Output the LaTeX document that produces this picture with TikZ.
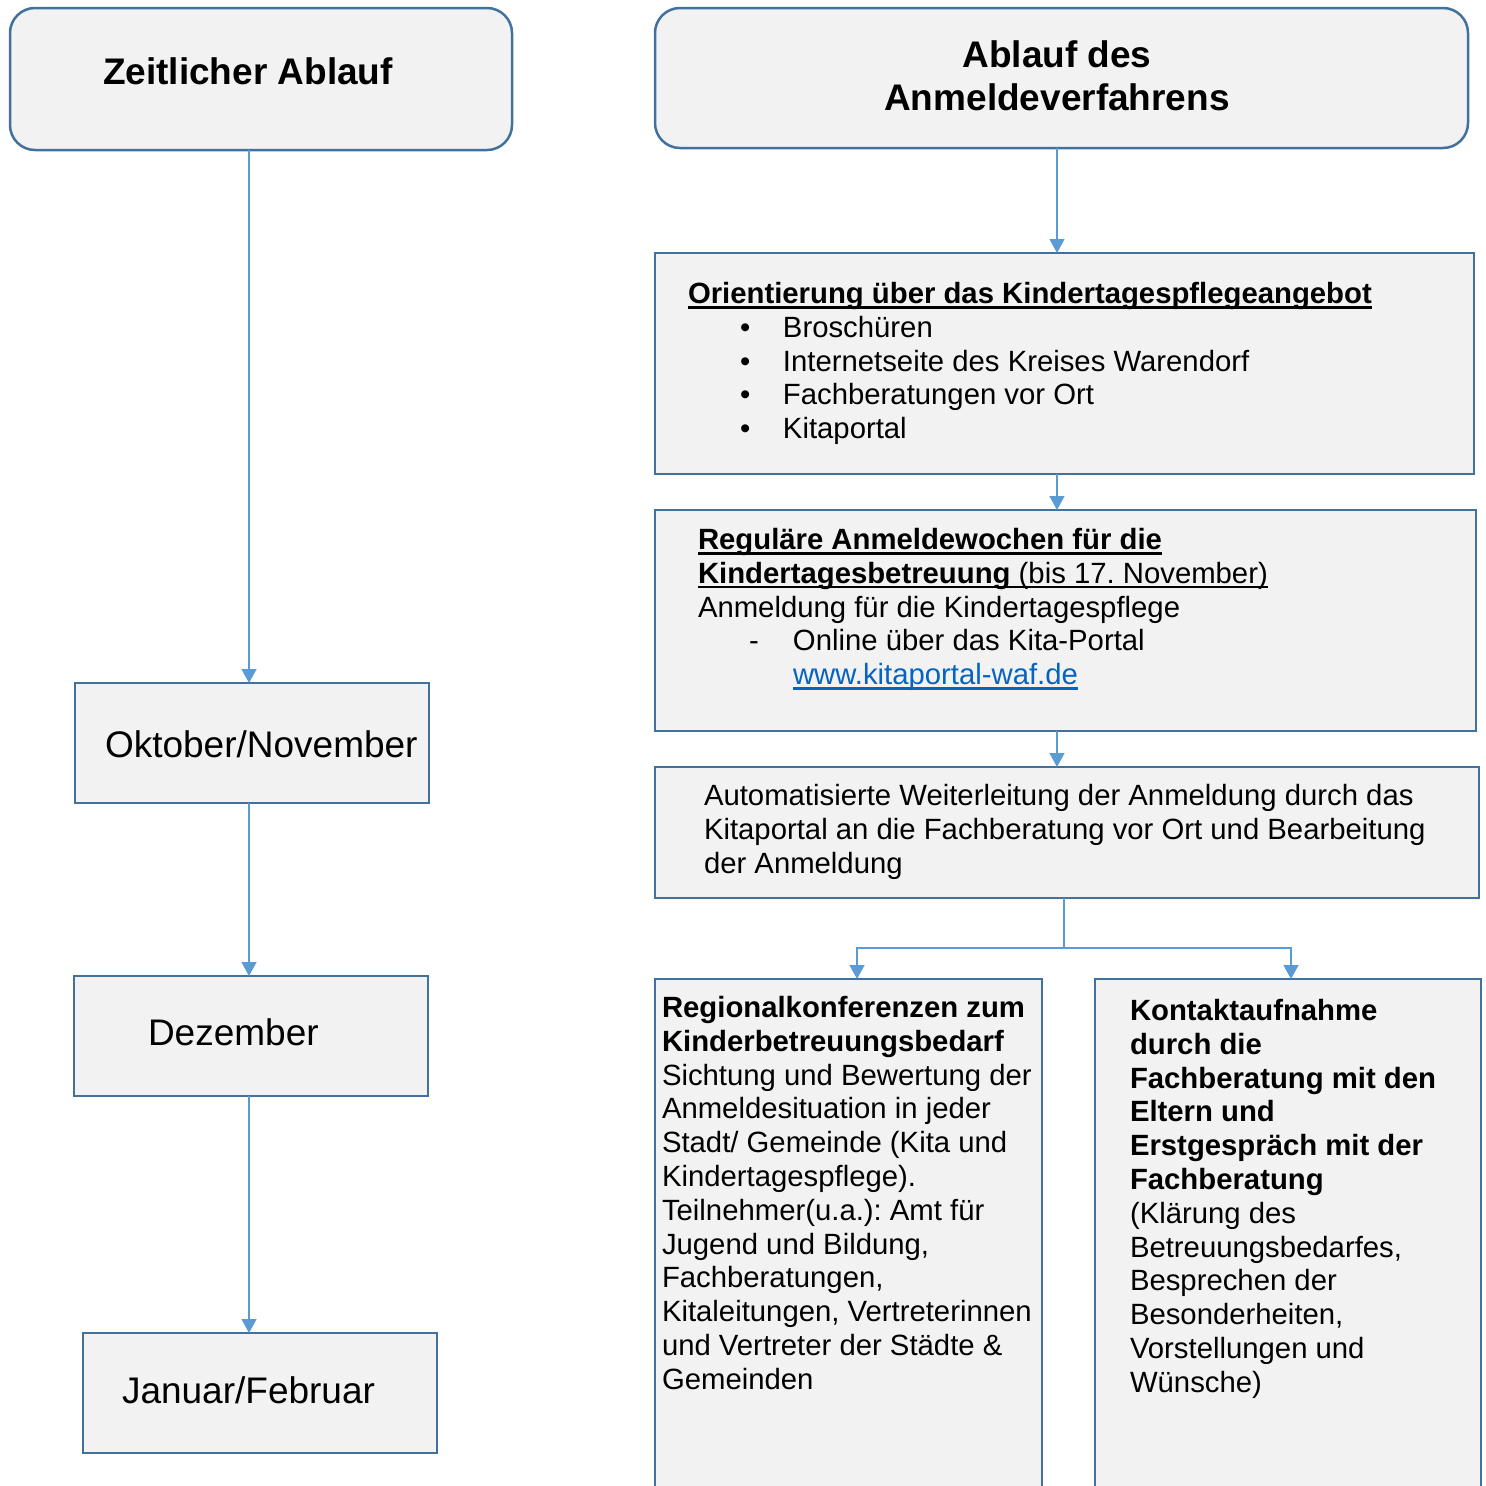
\documentclass[tikz,border=0pt]{standalone}
\usepackage{fontspec}
\setmainfont{Liberation Sans}
\usetikzlibrary{arrows.meta,calc}
\frenchspacing
\definecolor{boxfill}{HTML}{F2F2F2}
\definecolor{boxline}{HTML}{41719C}
\definecolor{connline}{HTML}{5B9BD5}
\definecolor{linkblue}{HTML}{0563C1}
\newcommand\myul[1]{\setbox0\hbox{#1}\rlap{\rule[-5pt]{\wd0}{2.6pt}}\box0}
\newcommand\textlines[1]{\vtop{\baselineskip=33.8pt\lineskiplimit=-1000pt\lineskip=0pt\relax #1}}
\tikzset{
  box/.style={draw=boxline, fill=boxfill, line width=2.5pt, inner sep=0pt, outer sep=0pt, rectangle},
  rbox/.style={box, rounded corners=25pt},
  conn/.style={draw=connline, line width=1.5pt, -{Triangle[width=15pt,length=14pt]}},
  plainconn/.style={draw=connline, line width=1.5pt},
  body/.style={inner sep=0pt, outer sep=0pt, anchor=base west, font=\fontsize{29.3}{33.8}\selectfont\frenchspacing},
  big/.style={inner sep=0pt, outer sep=0pt, font=\fontsize{37}{43}\selectfont}
}
\begin{document}
\begin{tikzpicture}[x=1pt,y=-1pt]
\useasboundingbox (0,0) rectangle (1486,1486);
\begin{scope}
\clip (0,0) rectangle (1486,1486);
% left column boxes
\node[rbox, minimum width=502pt, minimum height=142pt] (zt) at (261,79) {};
\node[box, minimum width=354pt, minimum height=120pt] (ok) at (252,743) {};
\node[box, minimum width=354pt, minimum height=120pt] (dez) at (251,1036) {};
\node[box, minimum width=354pt, minimum height=120pt] (jan) at (260,1393) {};
% right column boxes
\node[rbox, minimum width=813pt, minimum height=140pt] (ab) at (1061.5,78) {};
\node[box, minimum width=819pt, minimum height=221pt] (b1) at (1064.5,363.5) {};
\node[box, minimum width=821pt, minimum height=221pt] (b2) at (1065.5,620.5) {};
\node[box, minimum width=824pt, minimum height=131pt] (b3) at (1067,832.5) {};
\node[box, minimum width=387pt, minimum height=541pt] (b4) at (848.5,1249.5) {};
\node[box, minimum width=386pt, minimum height=541pt] (b5) at (1288,1249.5) {};
% helper coordinates
\coordinate (lc) at (249,0);
\coordinate (rc) at (1057,0);
\coordinate (split) at (1064,948);
\coordinate (a4) at (857,0);
\coordinate (a5) at (1291,0);
% left connectors
\draw[conn] (zt.south -| lc) -- (ok.north -| lc);
\draw[conn] (ok.south -| lc) -- (dez.north -| lc);
\draw[conn] (dez.south -| lc) -- (jan.north -| lc);
% right connectors
\draw[conn] (ab.south -| rc) -- (b1.north -| rc);
\draw[conn] (b1.south -| rc) -- (b2.north -| rc);
\draw[conn] (b2.south -| rc) -- (b3.north -| rc);
\draw[plainconn] (b3.south -| split) -- (split);
\draw[conn] (split) -| (b4.north -| a4);
\draw[conn] (split) -| (b5.north -| a5);
% titles
\node[big, anchor=base west, font=\fontsize{37}{43}\selectfont\bfseries] (tzt) at (103,84) {Zeitlicher Ablauf};
\node[big, anchor=base, font=\fontsize{37}{43}\selectfont\bfseries] (tab1) at (1057,67) {Ablauf des};
\node[big, anchor=base, font=\fontsize{37}{43}\selectfont\bfseries] (tab2) at (1057,110) {Anmeldeverfahrens};
% month labels
\node[big, anchor=base west] (tok) at (105,757) {Oktober/November};
\node[big, anchor=base west] (tdez) at (148,1045) {Dezember};
\node[big, anchor=base west] (tjan) at (122,1403) {Januar/Februar};
% box 1 text
\node[body] (t1) at (688,303.5) {\textlines{%
\hbox{\myul{\bfseries Orientierung über das Kindertagespflegeangebot}}
\hbox{\kern52pt\makebox[43pt][l]{\textbullet}Broschüren}
\hbox{\kern52pt\makebox[43pt][l]{\textbullet}Internetseite des Kreises Warendorf}
\hbox{\kern52pt\makebox[43pt][l]{\textbullet}Fachberatungen vor Ort}
\hbox{\kern52pt\makebox[43pt][l]{\textbullet}Kitaportal}}};
% box 2 text
\node[body] (t2) at (698,549.5) {\textlines{%
\hbox{\myul{\bfseries Reguläre Anmeldewochen für die}}
\hbox{\myul{{\bfseries Kindertagesbetreuung} (bis 17. November)}}
\hbox{Anmeldung für die Kindertagespflege}
\hbox{\kern51pt\makebox[44pt][l]{-}Online über das Kita-Portal}
\hbox{\kern95pt\color{linkblue}\myul{www.kitaportal-waf.de}}}};
% box 3 text
\node[body] (t3) at (704,805.5) {\textlines{%
\hbox{Automatisierte Weiterleitung der Anmeldung durch das}
\hbox{Kitaportal an die Fachberatung vor Ort und Bearbeitung}
\hbox{der Anmeldung}}};
% box 4 text
\node[body] (t4) at (662,1017.5) {\textlines{%
\hbox{\bfseries Regionalkonferenzen zum}
\hbox{\bfseries Kinderbetreuungsbedarf}
\hbox{Sichtung und Bewertung der}
\hbox{Anmeldesituation in jeder}
\hbox{Stadt/ Gemeinde (Kita und}
\hbox{Kindertagespflege).}
\hbox{Teilnehmer(u.a.): Amt für}
\hbox{Jugend und Bildung,}
\hbox{Fachberatungen,}
\hbox{Kitaleitungen, Vertreterinnen}
\hbox{und Vertreter der Städte \&}
\hbox{Gemeinden}}};
% box 5 text
\node[body] (t5) at (1130,1020.5) {\textlines{%
\hbox{\bfseries Kontaktaufnahme}
\hbox{\bfseries durch die}
\hbox{\bfseries Fachberatung mit den}
\hbox{\bfseries Eltern und}
\hbox{\bfseries Erstgespräch mit der}
\hbox{\bfseries Fachberatung}
\hbox{(Klärung des}
\hbox{Betreuungsbedarfes,}
\hbox{Besprechen der}
\hbox{Besonderheiten,}
\hbox{Vorstellungen und}
\hbox{Wünsche)}}};
\end{scope}
\end{tikzpicture}
\end{document}
